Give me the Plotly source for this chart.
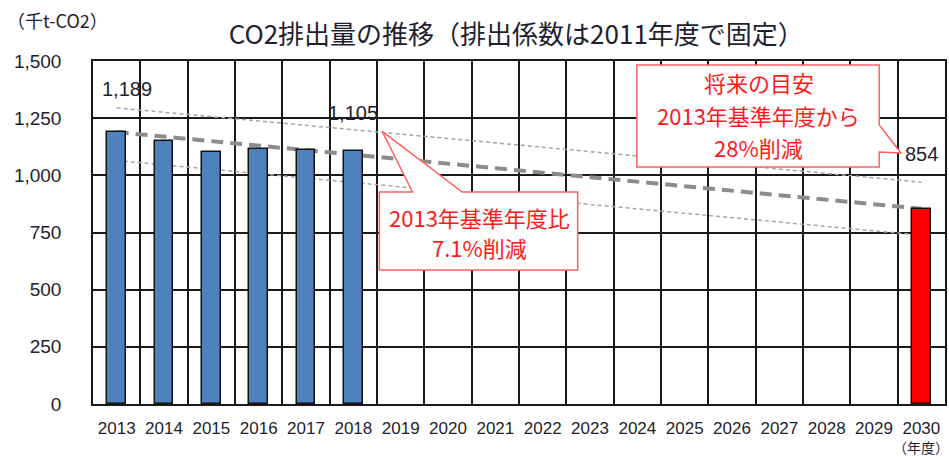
import plotly.graph_objects as go

# ---- data ----
years = list(range(2013, 2031))
year_labels = [str(y) for y in years]
actual_years = [2013, 2014, 2015, 2016, 2017, 2018]
actual_values = [1189, 1152, 1104, 1113, 1110, 1105]
target_years = [2030]
target_values = [854]
trend_years = [2013, 2030]
trend_values = [1189, 854]
upper_values = [1295, 970]
lower_values = [1065, 738]
y_ticks = [0, 250, 500, 750, 1000, 1250, 1500]
y_tick_labels = ["0", "250", "500", "750", "1,000", "1,250", "1,500"]

title_text = "CO2排出量の推移（排出係数は2011年度で固定）"
unit_text = "（千t-CO2）"
x_unit_text = "（年度）"
callout1_lines = ["2013年基準年度比", "7.1%削減"]
callout2_lines = ["将来の目安", "2013年基準年度から", "28%削減"]

JP = "Noto Sans CJK JP"
NUM = "Liberation Sans, Arial, sans-serif"
TXT = "#1e1e2e"
RED = "#ff1a1a"
GRID = "#1a1a1a"

fig = go.Figure()

# dashed reference lines (behind bars)
fig.add_trace(go.Scatter(x=trend_years, y=upper_values, mode="lines",
                         line=dict(color="#a6a6a6", width=1.5, dash="4px,3px"),
                         xaxis="x", yaxis="y", showlegend=False, hoverinfo="skip"))
fig.add_trace(go.Scatter(x=trend_years, y=lower_values, mode="lines",
                         line=dict(color="#a6a6a6", width=1.5, dash="4px,3px"),
                         xaxis="x", yaxis="y", showlegend=False, hoverinfo="skip"))
fig.add_trace(go.Scatter(x=trend_years, y=trend_values, mode="lines",
                         line=dict(color="#8c8c8c", width=4, dash="12px,7px"),
                         xaxis="x", yaxis="y", showlegend=False, hoverinfo="skip"))

# bars on overlay axes (drawn above the lines)
fig.add_trace(go.Bar(x=actual_years, y=actual_values, width=0.4,
                     marker=dict(color="#4f81bd", line=dict(color="#111111", width=1.5)),
                     xaxis="x2", yaxis="y2", showlegend=False))
fig.add_trace(go.Bar(x=target_years, y=target_values, width=0.4,
                     marker=dict(color="#ff0000", line=dict(color="#111111", width=1.5)),
                     xaxis="x2", yaxis="y2", showlegend=False))

xr = [years[0] - 0.5, years[-1] + 0.5]
yr = [y_ticks[0], y_ticks[-1]]

fig.update_layout(
    width=949, height=457,
    margin=dict(l=93, r=2, t=61, b=53),
    paper_bgcolor="white", plot_bgcolor="white",
    bargap=0,
    title=dict(text=title_text, font=dict(family=JP, size=26, color=TXT),
               x=0.544, xanchor="center", y=0.923, yanchor="middle"),
    xaxis=dict(range=xr, tickvals=years, ticktext=year_labels, showgrid=False,
               zeroline=False, showline=True, mirror=True, linecolor=GRID, linewidth=1.5,
               ticks="", tickfont=dict(family=NUM, size=17, color=TXT), ticklabelstandoff=8),
    yaxis=dict(range=yr, tickvals=y_ticks, ticktext=y_tick_labels, showgrid=True,
               gridcolor=GRID, gridwidth=1.5, zeroline=False, showline=True, mirror=True,
               linecolor=GRID, linewidth=1.5, ticks="",
               tickfont=dict(family=NUM, size=19, color=TXT), ticklabelstandoff=26),
    xaxis2=dict(range=xr, overlaying="x", tickvals=[y - 0.5 for y in years] + [years[-1] + 0.5],
                showgrid=True, gridcolor=GRID, gridwidth=1.5, showticklabels=False,
                ticks="", zeroline=False, showline=False),
    yaxis2=dict(range=yr, overlaying="y", showgrid=False, showticklabels=False,
                ticks="", zeroline=False, showline=False),
)

# callout outlines (box + pointer)
fig.add_shape(type="path", xref="x", yref="y", layer="above",
              path="M 2018.55,927 L 2019.25,927 L 2018.61,1192 L 2020.30,927 "
                   "L 2022.74,927 L 2022.74,586 L 2018.55,586 Z",
              fillcolor="white", line=dict(color="#ff6060", width=1.5))
fig.add_shape(type="path", xref="x", yref="y", layer="above",
              path="M 2023.99,1482 L 2029.11,1482 L 2029.11,1220 L 2029.57,1098 "
                   "L 2029.11,1102 L 2029.11,1036 L 2023.99,1036 Z",
              fillcolor="white", line=dict(color="#ff6060", width=1.5))

annotations = []
for txt, yv in zip(callout1_lines, [818, 687]):
    annotations.append(dict(x=2020.66, y=yv, xref="x", yref="y", text=txt, showarrow=False,
                            font=dict(family=JP, size=22, color=RED)))
for txt, yv in zip(callout2_lines, [1408, 1264, 1124]):
    annotations.append(dict(x=2026.56, y=yv, xref="x", yref="y", text=txt, showarrow=False,
                            font=dict(family=JP, size=22, color=RED)))

# value labels
label_pts = [(actual_years[0], actual_values[0], 10, 43),
             (actual_years[-1], actual_values[-1], 0, 38),
             (target_years[0], target_values[0], 0, 55)]
for xv, yv, xs, ys in label_pts:
    annotations.append(dict(x=xv, y=yv, xref="x", yref="y", text=f"{yv:,}", showarrow=False,
                            xshift=xs, yshift=ys, font=dict(family=NUM, size=20, color=TXT)))

annotations.append(dict(x=-0.103, y=1.12, xref="paper", yref="paper", text=unit_text,
                        showarrow=False, xanchor="left", yanchor="middle",
                        font=dict(family=JP, size=18, color=TXT)))
annotations.append(dict(x=years[-1], y=-0.126, xref="x", yref="paper", text=x_unit_text,
                        showarrow=False, xanchor="center", yanchor="middle",
                        font=dict(family=JP, size=14, color=TXT)))
fig.update_layout(annotations=annotations)

fig.write_html("out.html", config={"displayModeBar": False},
               post_script="document.body.style.margin='0';document.body.style.overflow='hidden';")
